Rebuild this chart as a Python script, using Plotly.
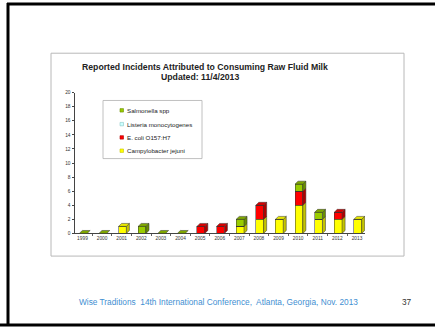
import plotly.graph_objects as go

# Reported raw-milk incidents per year, by pathogen
years = ["1999", "2000", "2001", "2002", "2003", "2004", "2005", "2006",
         "2007", "2008", "2009", "2010", "2011", "2012", "2013"]
campylobacter = [0, 0, 1, 0, 0, 0, 0, 0, 1, 2, 2, 4, 2, 2, 2]
ecoli = [0, 0, 0, 0, 0, 0, 1, 1, 0, 2, 0, 2, 0, 1, 0]
listeria = [0, 0, 0, 0, 0, 0, 0, 0, 0, 0, 0, 0, 0, 0, 0]
salmonella = [0, 0, 0, 1, 0, 0, 0, 0, 1, 0, 0, 1, 1, 0, 0]

y_ticks = list(range(0, 21, 2))

W, H = 435, 329

# stacking order bottom -> top, with (front, side, top) face colours
series = [
    ("Campylobacter jejuni", campylobacter, ("#ffff00", "#c4c400", "#e8e800")),
    ("E. coli O157:H7", ecoli, ("#ff0000", "#b00000", "#d80000")),
    ("Listeria monocytogenes", listeria, ("#ccffff", "#8cc8c8", "#b0e8e8")),
    ("Salmonella spp", salmonella, ("#99cc00", "#6a8e00", "#7fa800")),
]

BAR_W = 0.40
BAR_OFF = -0.16
DX = 0.155   # depth of the 3D faces along x (category units)
DY = 0.42    # depth of the 3D faces along y (value units)
EDGE = "#333333"

idx = list(range(len(years)))

fig = go.Figure()
for name, vals, (front, _, _) in series:
    fig.add_trace(go.Bar(
        x=idx, y=vals, name=name, width=BAR_W, offset=BAR_OFF,
        marker=dict(color=front, line=dict(color=EDGE, width=0.5)),
        showlegend=False,
    ))

shapes = []


def poly(pts, fill):
    path = "M " + " L ".join(f"{px},{py}" for px, py in pts) + " Z"
    return dict(type="path", path=path, xref="x", yref="y",
                fillcolor=fill, line=dict(color=EDGE, width=0.5), layer="above")


for i in idx:
    x0 = i + BAR_OFF
    x1 = x0 + BAR_W
    base = 0.0
    top_colour = series[-1][2][2]
    for name, vals, (front, side, top) in series:
        v = vals[i]
        if v > 0:
            shapes.append(poly([(x1, base), (x1 + DX, base + DY),
                                (x1 + DX, base + v + DY), (x1, base + v)], side))
            base += v
            top_colour = top
    shapes.append(poly([(x0, base), (x1, base), (x1 + DX, base + DY),
                        (x0 + DX, base + DY)], top_colour))


def px_x(v):
    return v / W


def px_y(v):
    return 1 - v / H


# slide frame
shapes += [
    dict(type="rect", xref="paper", yref="paper", x0=px_x(51), x1=px_x(404),
         y0=px_y(258), y1=px_y(52), line=dict(color="#b8b8b8", width=1),
         fillcolor="rgba(0,0,0,0)", layer="below"),
    dict(type="line", xref="paper", yref="paper", x0=px_x(8), x1=px_x(8),
         y0=0, y1=px_y(1), line=dict(color="black", width=3)),
    dict(type="line", xref="paper", yref="paper", x0=px_x(7), x1=1,
         y0=px_y(2), y1=px_y(2), line=dict(color="black", width=3)),
    dict(type="line", xref="paper", yref="paper", x0=0, x1=1,
         y0=px_y(328), y1=px_y(328), line=dict(color="black", width=3)),
]

# legend box with small swatches
shapes.append(dict(type="rect", xref="paper", yref="paper", x0=px_x(103), x1=px_x(202),
                   y0=px_y(159), y1=px_y(100), line=dict(color="#b0b0b0", width=0.8),
                   fillcolor="white", layer="above"))
annotations = []
legend_rows = [series[3], series[2], series[1], series[0]]
legend_y = [110, 124, 137.5, 151]
for (name, _, (front, side, _)), ly in zip(legend_rows, legend_y):
    shapes.append(dict(type="rect", xref="paper", yref="paper",
                       x0=px_x(120), x1=px_x(123.5), y0=px_y(ly + 1.75), y1=px_y(ly - 1.75),
                       fillcolor=front, line=dict(color=side, width=0.6), layer="above"))
    annotations.append(dict(x=px_x(124.5), y=px_y(ly), xref="paper", yref="paper",
                            text=name, showarrow=False, xanchor="left", yanchor="middle",
                            font=dict(size=6.2, color="#222222")))

annotations += [
    dict(x=px_x(205), y=px_y(66), xref="paper", yref="paper", showarrow=False,
         text="<b>Reported Incidents Attributed to Consuming Raw Fluid Milk</b>",
         font=dict(size=8.7, color="#222222"), xanchor="center", yanchor="middle"),
    dict(x=px_x(200), y=px_y(76), xref="paper", yref="paper", showarrow=False,
         text="<b>Updated: 11/4/2013</b>",
         font=dict(size=8.7, color="#222222"), xanchor="center", yanchor="middle"),
    dict(x=px_x(77), y=px_y(304.5), xref="paper", yref="paper", showarrow=False,
         text="Wise Traditions  14th International Conference,  Atlanta, Georgia, Nov. 2013",
         font=dict(size=8.3, color="#3f8fd2"), xanchor="left", yanchor="middle"),
    dict(x=px_x(414), y=px_y(304.5), xref="paper", yref="paper", showarrow=False,
         text="37", font=dict(size=8.3, color="#333333"), xanchor="right", yanchor="middle"),
]

fig.update_layout(
    width=W, height=H,
    margin=dict(l=0, r=0, t=0, b=0),
    paper_bgcolor="white", plot_bgcolor="white",
    barmode="stack",
    font=dict(family="Liberation Sans, Arial, sans-serif", color="#333333"),
    xaxis=dict(
        domain=[px_x(75), px_x(365)], range=[-0.38, 14.41],
        tickvals=idx, ticktext=years, ticks="",
        tickfont=dict(size=4.8, color="#333333"),
        showgrid=False, zeroline=False,
        showline=True, linecolor="#444444", linewidth=1,
        minor=dict(tickvals=[i + 0.5 for i in idx[:-1]], ticks="outside",
                   ticklen=2, tickcolor="#666666", showgrid=False),
    ),
    yaxis=dict(
        domain=[px_y(235), px_y(92)], range=[0, 20],
        tickvals=y_ticks, ticks="outside", ticklen=2.5, tickcolor="#444444",
        tickfont=dict(size=4.8, color="#333333"),
        showgrid=False, zeroline=False,
        showline=True, linecolor="#444444", linewidth=1,
    ),
    shapes=shapes,
    annotations=annotations,
)

fig.write_html("out.html")
